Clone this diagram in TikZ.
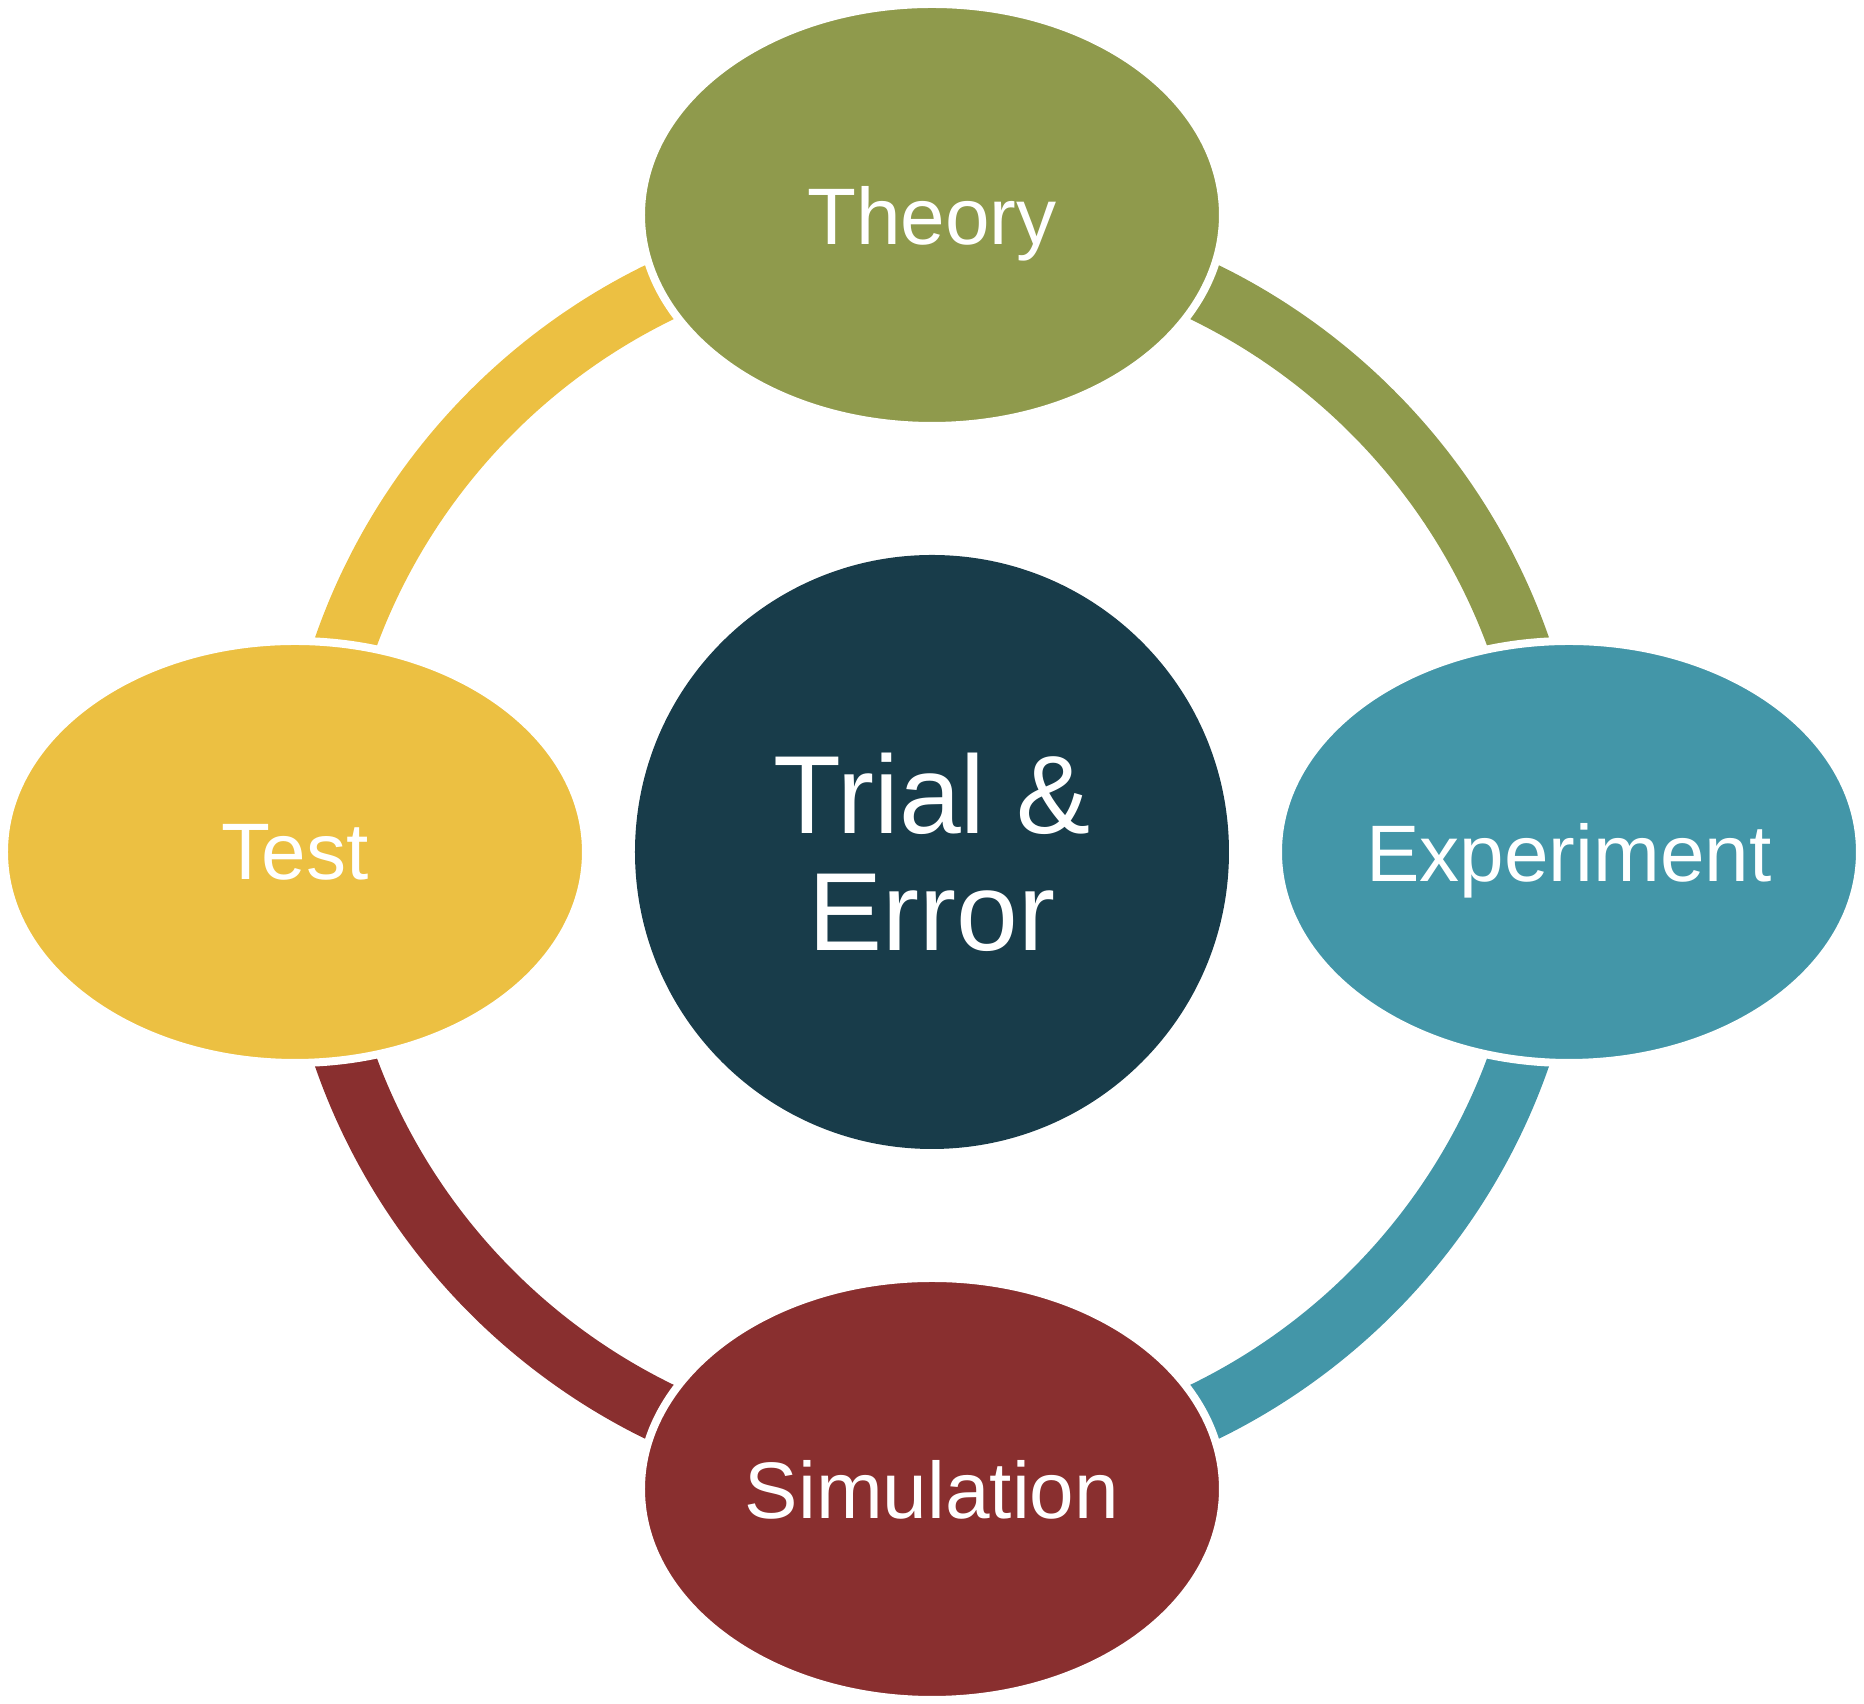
\documentclass[tikz,border=0pt]{standalone}
\usepackage{fontspec}
\setmainfont{Liberation Sans}
\usepackage{tikz}
\usetikzlibrary{shapes.geometric}

\definecolor{theorycol}{RGB}{143,154,76}
\definecolor{expcol}{RGB}{67,150,168}
\definecolor{simcol}{RGB}{137,47,47}
\definecolor{testcol}{RGB}{236,192,66}
\definecolor{trialcol}{RGB}{24,60,74}

\begin{document}
\begin{tikzpicture}[
		stage/.style={ellipse, draw=white, line width=0.08cm, inner sep=0pt,
			minimum width=5.82cm, minimum height=4.22cm, text=white,
			text depth=0pt, font=\fontsize{22.8}{27}\selectfont},
		hub/.style={circle, fill=trialcol, inner sep=0pt, minimum size=5.94cm,
			text=white, align=center, text depth=0pt,
			font=\fontsize{31.6}{33.3}\selectfont},
		ring/.style={line width=0.61cm, line cap=butt}
	]
		\useasboundingbox (-9.32,-8.52) rectangle (9.32,8.52);
		% centre
		\node[hub] (trial) at (0,0) {Trial \&\\Error};
		% arcs
		\draw[ring, theorycol] ([shift={(90:6.225)}]trial.center) arc[start angle=90, end angle=0, radius=6.225];
		\draw[ring, expcol] ([shift={(0:6.225)}]trial.center) arc[start angle=0, end angle=-90, radius=6.225];
		\draw[ring, simcol] ([shift={(-90:6.225)}]trial.center) arc[start angle=-90, end angle=-180, radius=6.225];
		\draw[ring, testcol] ([shift={(180:6.225)}]trial.center) arc[start angle=180, end angle=90, radius=6.225];
		% stages
		\node[stage, fill=theorycol] (theory) at (0,6.37) {Theory};
		\node[stage, fill=expcol] (experiment) at (6.37,0) {Experiment};
		\node[stage, fill=simcol] (simulation) at (0,-6.37) {Simulation};
		\node[stage, fill=testcol] (test) at (-6.37,0) {Test};
	\end{tikzpicture}
\end{document}
